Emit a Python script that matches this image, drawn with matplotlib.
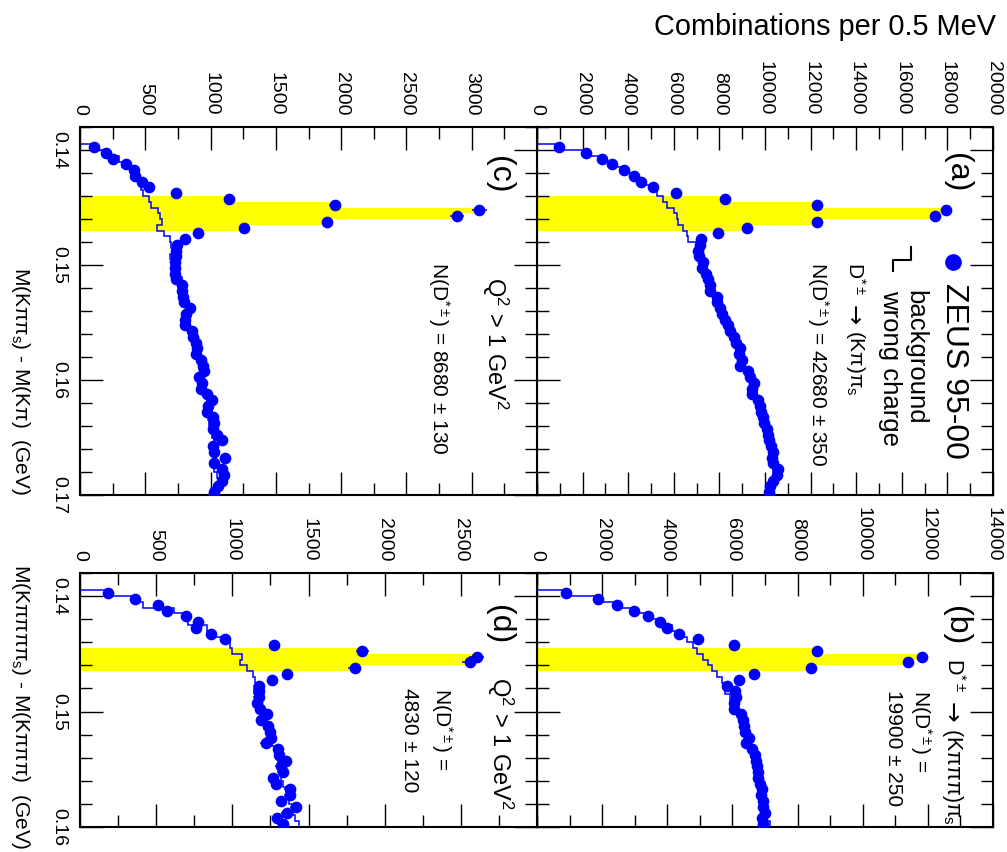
import matplotlib
matplotlib.use("Agg")
import matplotlib.pyplot as plt
from matplotlib.lines import Line2D
from matplotlib.ticker import FixedLocator, MultipleLocator, FuncFormatter
import numpy as np

plt.rcParams["font.family"] = ["Liberation Sans", "DejaVu Sans"]
plt.rcParams["mathtext.fontset"] = "custom"
plt.rcParams["mathtext.rm"] = "Liberation Sans"
plt.rcParams["mathtext.it"] = "Liberation Sans"
plt.rcParams["mathtext.bf"] = "Liberation Sans:bold"

W, H = 1007, 852
BIN = 0.0005      # 0.5 MeV bins
M_LO = 0.138      # lower edge of the mass window

# (a) D* -> (K pi) pi_s, all events
a_data = [0, 0, 0, 980, 2135, 2837, 3275, 3802, 4240, 4561, 5102, 6097, 8246, 12295,
          17925, 17456, 12266, 9196, 7953, 7193, 7149, 7076, 7120, 7295, 7222, 7412,
          7515, 7588, 7588, 7880, 7880, 8026, 8100, 8246, 8392, 8465, 8640, 8728, 8904,
          8874, 8977, 8904, 9269, 9342, 9518, 9415, 9415, 9708, 9781, 9825, 9898, 9971,
          10102, 10146, 10190, 10249, 10336, 10292, 10336, 10585, 10512, 10336, 10219, 10190]
a_bg = [0, 0, 0, 790, 2050, 2750, 3300, 3750, 4150, 4500, 5000, 5250, 5540, 5690, 6010,
        6125, 6200, 6420, 6560, 6640, 7000, 7000, 7050, 7250, 7180, 7380, 7470, 7560, 7620,
        7820, 7900, 8000, 8050, 8200, 8420, 8430, 8600, 8700, 8850, 8900, 8950, 8950, 9200,
        9300, 9450, 9450, 9550, 9650, 9750, 9800, 9850, 9950, 10050, 10100, 10150, 10200,
        10300, 10300, 10300, 10350, 10400, 10300, 10250, 10200]

# (b) D* -> (K pi pi pi) pi_s, all events
b_data = [0, 0, 0, 890, 1883, 2446, 2968, 3418, 3776, 4001, 4359, 4933, 6048, 8587, 11810,
          11380, 8402, 6662, 6201, 5843, 6079, 6099, 6048, 6058, 6253, 6335, 6366, 6386,
          6519, 6417, 6591, 6693, 6724, 6744, 6796, 6775, 6847, 6898, 6868, 6929, 6949,
          7000, 6898, 6949]
b_bg = [0, 0, 0, 850, 1850, 2450, 2900, 3400, 3750, 4150, 4440, 4600, 4800, 4900, 5100,
        5250, 5360, 5520, 5670, 5700, 5780, 5920, 6000, 6050, 6180, 6250, 6300, 6350, 6400,
        6450, 6520, 6600, 6650, 6700, 6730, 6760, 6800, 6830, 7000, 6850, 6900, 6950, 7000,
        7150]

# (c) D* -> (K pi) pi_s, Q^2 > 1 GeV^2
c_data = [0, 0, 0, 107, 199, 255, 350, 414, 421, 472, 528, 735, 1139, 1953, 3058, 2885,
          1894, 1256, 906, 804, 745, 735, 735, 728, 728, 728, 735, 779, 779, 786, 797, 843,
          812, 804, 804, 855, 868, 888, 894, 888, 924, 940, 950, 914, 932, 924, 970, 1008,
          983, 970, 1021, 1026, 1016, 1047, 1085, 1016, 1026, 1111, 1026, 1085, 1106, 1085,
          1060, 1026]
c_bg = [0, 0, 0, 100, 205, 300, 320, 395, 400, 460, 470, 480, 530, 540, 600, 610, 625, 590,
        640, 690, 700, 730, 690, 730, 740, 760, 780, 780, 770, 790, 800, 810, 820, 830, 840,
        860, 870, 880, 870, 890, 900, 910, 930, 920, 940, 930, 960, 970, 960, 960, 980, 990,
        1000, 1010, 1030, 1040, 1030, 1040, 1050, 1030, 1050, 1060, 1050, 1040]

# (d) D* -> (K pi pi pi) pi_s, Q^2 > 1 GeV^2
d_data = [0, 0, 0, 182, 361, 510, 573, 694, 777, 762, 860, 952, 1274, 1853, 2604, 2560,
          1805, 1361, 1260, 1173, 1177, 1173, 1164, 1182, 1230, 1188, 1236, 1247, 1251, 1219,
          1302, 1309, 1350, 1318, 1331, 1269, 1287, 1379, 1379, 1320, 1416, 1357, 1295, 1331]
d_bg = [0, 0, 0, 182, 361, 416, 619, 700, 711, 831, 875, 958, 985, 996, 1061, 1050, 1094,
        1138, 1150, 1170, 1140, 1160, 1180, 1190, 1200, 1230, 1210, 1230, 1240, 1260, 1280,
        1300, 1300, 1310, 1330, 1320, 1330, 1350, 1360, 1370, 1390, 1400, 1410, 1440]

# signal windows (first, last bin index)
sig_kpi = (12, 17)
sig_k3pi = (13, 16)


def px(x, y):
    """Image pixel (from top-left) -> figure fraction."""
    return x / W, 1 - y / H


fig = plt.figure(figsize=(W / 100, H / 100), dpi=100)


def add_panel(box, data, bg, sig, xmax, xticks, xminor, mhi, mticks, left_labels):
    l, t, r, b = box
    ax = fig.add_axes([l / W, 1 - b / H, (r - l) / W, (b - t) / H])
    data = np.asarray(data, float)
    edges = M_LO + BIN * np.arange(len(data) + 1)
    centres = edges[:-1] + BIN / 2
    lo, hi = sig
    ax.barh(centres[lo:hi + 1], data[lo:hi + 1], height=BIN, color="#ffff00", lw=0, zorder=1)
    ax.stairs(bg, edges, orientation="horizontal", color="#0000ff", lw=1.1, baseline=0, zorder=2)
    ok = data > 0
    ax.errorbar(data[ok], centres[ok], xerr=np.sqrt(data[ok]), fmt="o", color="#0000ff",
                ms=7.4, elinewidth=1.1, capsize=0, zorder=3)
    ax.set_xlim(0, xmax)
    ax.set_ylim(mhi, M_LO)

    ax.xaxis.set_major_locator(FixedLocator(xticks))
    ax.xaxis.set_minor_locator(MultipleLocator(xminor))
    ax.xaxis.set_major_formatter(FuncFormatter(lambda v, p: f"{v:.0f}"))
    ax.yaxis.set_major_locator(FixedLocator(mticks))
    ax.yaxis.set_minor_locator(MultipleLocator(0.002))
    ax.yaxis.set_major_formatter(FuncFormatter(lambda v, p: f"{v:.2f}"))

    ax.tick_params(which="both", direction="in", top=True, bottom=True, left=True, right=True,
                   labeltop=True, labelbottom=False, labelleft=left_labels, labelright=False,
                   labelsize=14, width=1, color="black")
    ax.tick_params(which="major", length=16.5)
    ax.tick_params(which="minor", length=8.5)
    ax.tick_params(axis="x", labelrotation=-90, pad=8.5)
    ax.tick_params(axis="y", labelrotation=-90, pad=9.5)
    plt.setp(ax.get_yticklabels(), va="center")
    for s in ax.spines.values():
        s.set_linewidth(1.5)
    return ax


kpi_m = [0.14, 0.15, 0.16, 0.17]
k3pi_m = [0.14, 0.15, 0.16]

add_panel((537, 127, 993, 495), a_data, a_bg, sig_kpi, 20000, np.arange(0, 20001, 2000), 1000,
          0.170, kpi_m, False)
add_panel((80, 127, 537, 495), c_data, c_bg, sig_kpi, 3500, np.arange(0, 3001, 500), 250,
          0.170, kpi_m, True)
add_panel((537, 573, 993, 827), b_data, b_bg, sig_k3pi, 14000, np.arange(0, 14001, 2000), 1000,
          0.160, k3pi_m, False)
add_panel((80, 573, 537, 827), d_data, d_bg, sig_k3pi, 3000, np.arange(0, 2501, 500), 250,
          0.160, k3pi_m, True)


def label(x, y, s, size, **kw):
    fig.text(*px(x, y), s, rotation=-90, ha="center", va="top", fontsize=size, **kw)


def decay(x, y, final, size, gaps):
    # D*+- -> final state, the arrow in DejaVu Sans so it is long enough
    label(x, y, r"D$^{*\pm}$", size)
    label(x - 2, y + gaps[0], "→", size * 1.15, family="DejaVu Sans")
    label(x, y + gaps[1], final, size)


# axis titles
fig.text(*px(996, 13), "Combinations per 0.5 MeV", ha="right", va="top", fontsize=20.8)
fig.text(*px(20, 495), r"M(K$\pi\pi_s$) - M(K$\pi$)  (GeV)", rotation=-90,
         ha="center", va="bottom", fontsize=15)
fig.text(*px(20, 850), r"M(K$\pi\pi\pi\pi_s$) - M(K$\pi\pi\pi$)  (GeV)", rotation=-90,
         ha="center", va="bottom", fontsize=15)

dstar = r"D$^{*\pm}$"

# panel (a)
label(957, 153, "(a)", 23)
fig.add_artist(Line2D([953 / W], [1 - 262 / H], marker="o", ms=11, color="#0000ff",
                      transform=fig.transFigure))
label(954, 283, "ZEUS 95-00", 23)
sx = [911, 911, 893, 893]
sy = [247, 260, 260, 271]
fig.add_artist(Line2D([v / W for v in sx], [1 - v / H for v in sy], color="black", lw=1.5,
                      transform=fig.transFigure))
label(915, 290, "background", 18.5)
label(890, 290, "wrong charge", 18.5)
decay(855, 262, r"(K$\pi$)$\pi_s$", 15, (43, 68))
label(818, 262, "N(" + dstar + ") = 42680 ± 350", 15)

# panel (b)
label(956, 606, "(b)", 23)
decay(953, 658, r"(K$\pi\pi\pi$)$\pi_s$", 15.5, (44, 70))
label(921, 690, "N(" + dstar + ") =", 15)
label(893, 690, "19900 ± 250", 15)

# panel (c)
label(499, 156, "(c)", 23)
label(495, 277, r"Q$^2$ > 1 GeV$^2$", 17)
label(439, 262, "N(" + dstar + ") = 8680 ± 130", 15)

# panel (d)
label(499, 605, "(d)", 23)
label(500, 677, r"Q$^2$ > 1 GeV$^2$", 17)
label(442, 688, "N(" + dstar + ") =", 15)
label(410, 688, "4830 ± 120", 15)

fig.savefig("out.png", dpi=100)
